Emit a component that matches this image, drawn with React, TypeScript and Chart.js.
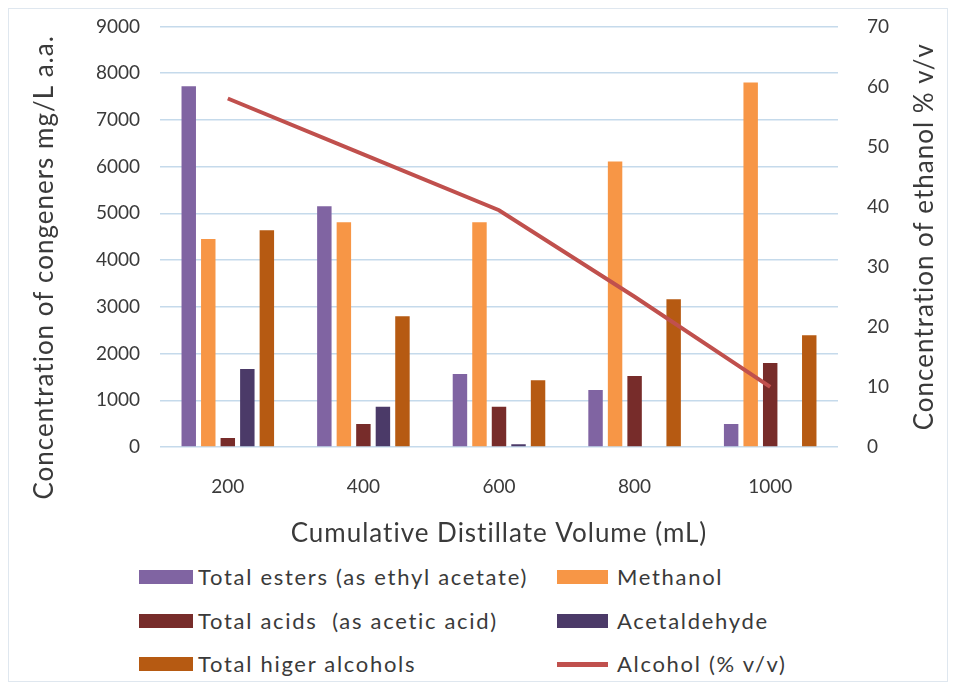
import React, { useEffect, useRef } from "react";
import { Chart, registerables } from "chart.js";

Chart.register(...registerables);

const categories = ["200", "400", "600", "800", "1000"];
const totalEsters = [7720, 5150, 1560, 1220, 490];
const methanol = [4450, 4810, 4810, 6110, 7800];
const totalAcids = [190, 490, 860, 1520, 1800];
const acetaldehyde = [1670, 860, 60, 0, 0];
const higherAlcohols = [4640, 2800, 1430, 3160, 2390];
const alcoholPct = [58, 48.7, 39.4, 25, 10];

const seriesNames = [
  "Total esters (as ethyl acetate)",
  "Methanol",
  "Total acids  (as acetic acid)",
  "Acetaldehyde",
  "Total higer alcohols",
  "Alcohol (% v/v)",
];
const seriesColors = ["#8064A2", "#F79646", "#772C2A", "#4B3A68", "#B65A12", "#C0504D"];

const xTitle = "Cumulative Distillate Volume (mL)";
const yTitle = "Concentration of congeners mg/L a.a.";
const y1Title = "Concentration of ethanol % v/v";

const FONT = "Lato, 'Open Sans', sans-serif";
const TEXT = "#3a3a3a";
const CANVAS_SHIFT = 14;

const titlesPlugin = {
  id: "axisTitles",
  afterDraw(chart: any) {
    const ctx = chart.ctx;
    ctx.save();
    ctx.fillStyle = TEXT;
    ctx.font = `26px ${FONT}`;
    try {
      (ctx as any).letterSpacing = "1px";
    } catch (e) {}
    ctx.textAlign = "center";
    ctx.textBaseline = "middle";
    const a = chart.chartArea;
    ctx.fillText(xTitle, (a.left + a.right) / 2, a.bottom + 87);
    ctx.save();
    ctx.translate(45, a.top + 241);
    ctx.rotate(-Math.PI / 2);
    ctx.fillText(yTitle, 0, 0);
    ctx.restore();
    ctx.save();
    ctx.translate(925, (a.top + a.bottom) / 2);
    ctx.rotate(-Math.PI / 2);
    ctx.fillText(y1Title, 0, 0);
    ctx.restore();
    ctx.restore();
  },
};

export default function App() {
  const ref = useRef<HTMLCanvasElement | null>(null);

  useEffect(() => {
    if (!ref.current) return;
    const barData = [totalEsters, methanol, totalAcids, acetaldehyde, higherAlcohols];
    const datasets: any[] = barData.map((d, i) => ({
      type: "bar",
      label: seriesNames[i],
      data: d,
      backgroundColor: seriesColors[i],
      yAxisID: "y",
      order: 1,
      barPercentage: 0.74,
      categoryPercentage: 0.72,
    }));
    datasets.push({
      type: "line",
      label: seriesNames[5],
      data: alcoholPct,
      borderColor: seriesColors[5],
      backgroundColor: seriesColors[5],
      borderWidth: 4,
      pointRadius: 0,
      yAxisID: "y1",
      order: 0,
      tension: 0,
    });
    const chart = new Chart(ref.current, {
      type: "bar",
      data: { labels: categories, datasets },
      options: {
        responsive: false,
        animation: false,
        layout: { padding: 0 },
        plugins: { legend: { display: false }, tooltip: { enabled: false } },
        scales: {
          x: {
            grid: { display: false },
            border: { display: false },
            ticks: { color: TEXT, font: { family: FONT, size: 19 }, padding: 20 },
            afterFit: (s: any) => {
              s.height = 101;
            },
          },
          y: {
            position: "left",
            min: 0,
            max: 9000,
            ticks: {
              stepSize: 1000,
              color: TEXT,
              font: { family: FONT, size: 19 },
              padding: 20,
              callback: (v: any) => String(v),
            },
            grid: { color: "#C5DAEB", lineWidth: 1.5, drawTicks: false },
            border: { display: false },
            afterFit: (s: any) => {
              s.width = 160;
            },
          },
          y1: {
            position: "right",
            min: 0,
            max: 70,
            ticks: {
              stepSize: 10,
              color: TEXT,
              font: { family: FONT, size: 19 },
              padding: 29,
              callback: (v: any) => String(v),
            },
            grid: { display: false, drawTicks: false },
            border: { display: false },
            afterFit: (s: any) => {
              s.width = 116;
            },
          },
        },
      },
      plugins: [titlesPlugin],
    } as any);
    return () => chart.destroy();
  }, []);

  const rows = [
    [0, 1],
    [2, 3],
    [4, 5],
  ];
  const rowY = [577, 621, 664];
  const cols = [
    { sx: 139, sw: 54, tx: 198 },
    { sx: 557, sw: 51, tx: 617 },
  ];

  return (
    <div
      style={{
        position: "absolute",
        left: 0,
        top: 0,
        width: 954,
        height: 685,
        background: "#fff",
        fontFamily: FONT,
        overflow: "hidden",
      }}
    >
      <div
        style={{
          position: "absolute",
          left: 8,
          top: 8,
          width: 938,
          height: 672,
          border: "1px solid #dfe7ef",
        }}
      />
      <canvas
        ref={ref}
        width={954}
        height={548 + CANVAS_SHIFT}
        style={{ position: "absolute", left: 0, top: -CANVAS_SHIFT }}
      />
      {rows.map((r, ri) =>
        r.map((si, ci) => {
          const c = cols[ci];
          const isLine = si === 5;
          return (
            <React.Fragment key={si}>
              <div
                style={{
                  position: "absolute",
                  left: c.sx,
                  top: rowY[ri] - (isLine ? 2.5 : 7),
                  width: c.sw,
                  height: isLine ? 5 : 14,
                  background: seriesColors[si],
                }}
              />
              <div
                style={{
                  position: "absolute",
                  left: c.tx,
                  top: rowY[ri] - 14,
                  height: 28,
                  lineHeight: "28px",
                  fontSize: 22,
                  letterSpacing: "1.7px",
                  color: TEXT,
                  whiteSpace: "pre",
                }}
              >
                {seriesNames[si]}
              </div>
            </React.Fragment>
          );
        })
      )}
    </div>
  );
}
